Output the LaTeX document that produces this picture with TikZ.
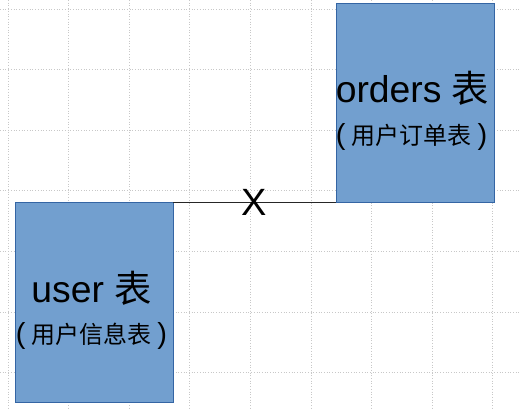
\documentclass[tikz,border=0pt]{standalone}
\usepackage{fontspec}
\setmainfont{Liberation Sans}
\newfontfamily\cjk{Noto Sans CJK SC}
\definecolor{boxfill}{HTML}{729FCF}
\definecolor{boxline}{HTML}{3465A4}
\definecolor{gridc}{HTML}{C8C8C8}
\newcommand{\subline}[1]{{\fontsize{29}{30}\selectfont(}\hspace{6pt}{\fontsize{24}{26}\selectfont\cjk #1}\hspace{6pt}{\fontsize{29}{30}\selectfont)}}
\begin{document}
\begin{tikzpicture}[x=1pt,y=-1pt,
  tablebox/.style={draw=boxline,fill=boxfill,line width=0.8pt,inner sep=0pt,outer sep=0pt,minimum width=158pt},
  maintext/.style={anchor=base,inner sep=0pt,font=\fontsize{37.3}{40}\selectfont},
  subtext/.style={anchor=base,inner sep=0pt},
  gridline/.style={draw=gridc,dotted,line width=0.7pt}]
\useasboundingbox (0,0) rectangle (520,410);
\fill[white] (0,0) rectangle (520,410);
\foreach \i in {0,...,8} {\draw[gridline] (8+60.6*\i,0) -- (8+60.6*\i,410);}
\foreach \j in {0,...,6} {\draw[gridline] (0,9+60.6*\j) -- (520,9+60.6*\j);}
\node[tablebox,minimum height=200pt] (user) at (94,302) {};
\node[tablebox,minimum height=199pt] (orders) at (415,102.5) {};
\node[maintext] (usert) at (91.5,302) {user {\cjk 表}};
\node[subtext] (users) at (91.5,343) {\subline{用户信息表}};
\node[maintext] (orderst) at (412.5,102) {orders {\cjk 表}};
\node[subtext] (orderss) at (411.5,144) {\subline{用户订单表}};
\draw[line width=0.8pt,draw=black!85] (user.north east) -- node[inner sep=0pt,text=black,font=\fontsize{38}{40}\selectfont] (xmark) {X} (orders.south west);
\end{tikzpicture}
\end{document}
